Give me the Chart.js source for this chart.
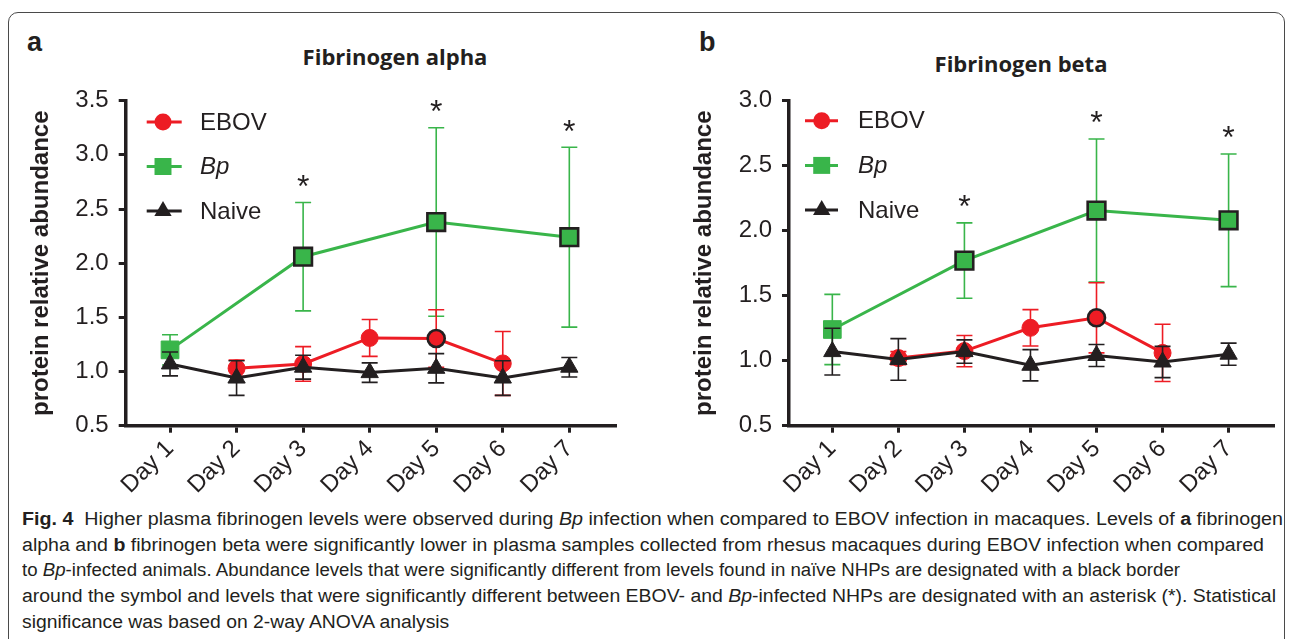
<!DOCTYPE html>
<html><head><meta charset="utf-8">
<script src="https://cdn.jsdelivr.net/npm/chart.js@4/dist/chart.umd.min.js"></script>
<style>
html,body{margin:0;padding:0;background:#fff;}
body{width:1289px;height:639px;overflow:hidden;position:relative;font-family:"Liberation Sans",Arial,sans-serif;color:#231f20;}
#frame{position:absolute;left:8px;top:12px;width:1275px;height:720px;border:1.3px solid #4a4a4a;border-radius:10px;}
.cw{position:absolute;top:0;height:500px;}
#wa{left:0;width:640px;}
#wb{left:645px;width:644px;}
.letter{position:absolute;font:bold 27px "Liberation Sans",Arial,sans-serif;line-height:27px;color:#231f20;}
.ptitle{position:absolute;font:bold 22px "Open Sans",sans-serif;line-height:22px;color:#231f20;white-space:nowrap;transform:translateX(-50%);}
.cap{position:absolute;left:22px;white-space:nowrap;font:18px "Liberation Sans",Arial,sans-serif;line-height:20px;color:#231f20;transform-origin:0 0;}
.cap b{font-weight:bold}
</style></head>
<body>
<div id="frame"></div>
<div class="letter" style="left:27px;top:29px">a</div>
<div class="letter" style="left:699px;top:29px">b</div>
<div class="ptitle" style="left:395px;top:45px">Fibrinogen alpha</div>
<div class="ptitle" style="left:1021px;top:52px">Fibrinogen beta</div>
<div class="cw" id="wa"><canvas id="ca" width="640" height="500"></canvas></div>
<div class="cw" id="wb"><canvas id="cb" width="644" height="500"></canvas></div>
<div class="cap" data-w="1261" style="top:509px"><b>Fig. 4</b>&nbsp; Higher plasma fibrinogen levels were observed during <i>Bp</i> infection when compared to EBOV infection in macaques. Levels of <b>a</b> fibrinogen</div>
<div class="cap" data-w="1242" style="top:535px">alpha and <b>b</b> fibrinogen beta were significantly lower in plasma samples collected from rhesus macaques during EBOV infection when compared</div>
<div class="cap" data-w="1158" style="top:560px">to <i>Bp</i>-infected animals. Abundance levels that were significantly different from levels found in naïve NHPs are designated with a black border</div>
<div class="cap" data-w="1254" style="top:586px">around the symbol and levels that were significantly different between EBOV- and <i>Bp</i>-infected NHPs are designated with an asterisk (*). Statistical</div>
<div class="cap" data-w="0" style="top:612px">significance was based on 2-way ANOVA analysis</div>
<script>
// ---------- data ----------
const dayLabels = ['Day 1','Day 2','Day 3','Day 4','Day 5','Day 6','Day 7'];
const seriesNames = ['EBOV','Bp','Naive'];

// Panel a: Fibrinogen alpha
const alphaEBOV    = [null, 1.03, 1.07, 1.31, 1.305, 1.075, null];
const alphaEBOVErr = [null, 0.075, 0.16, 0.17, 0.265, 0.295, null];
const alphaBp      = [1.20, null, 2.06, null, 2.38, null, 2.24];
const alphaBpErr   = [0.14, null, 0.50, null, 0.87, null, 0.83];
const alphaNaive   = [1.07, 0.94, 1.04, 0.99, 1.03, 0.94, 1.04];
const alphaNaiveErr= [0.11, 0.16, 0.11, 0.09, 0.135, 0.16, 0.09];
const alphaTicks   = [0.5, 1.0, 1.5, 2.0, 2.5, 3.0, 3.5];
const alphaSigEBOV = [5];
const alphaSigBp   = [3, 5, 7];
const alphaStars   = [3, 5, 7];

// Panel b: Fibrinogen beta
const betaEBOV     = [null, 1.02, 1.074, 1.253, 1.33, 1.06, null];
const betaEBOVErr  = [null, 0.05, 0.12, 0.14, 0.27, 0.22, null];
const betaBp       = [1.24, null, 1.77, null, 2.155, null, 2.08];
const betaBpErr    = [0.27, null, 0.29, null, 0.55, null, 0.51];
const betaNaive    = [1.07, 1.01, 1.07, 0.965, 1.04, 0.99, 1.05];
const betaNaiveErr = [0.18, 0.16, 0.09, 0.12, 0.085, 0.12, 0.085];
const betaTicks    = [0.5, 1.0, 1.5, 2.0, 2.5, 3.0];
const betaSigEBOV  = [5];
const betaSigBp    = [3, 5, 7];
const betaStars    = [3, 5, 7];

// ---------- styling ----------
const RED='#ed1c24', GREEN='#39b54a', BLACK='#231f20';
const FONT='"Liberation Sans", Arial, sans-serif';

function pts(vals, errs){
  const out=[];
  vals.forEach((v,i)=>{ if(v!==null) out.push({x:i+1, y:v, e:errs[i]}); });
  return out;
}
function ds(label, vals, errs, color, style, radius, sig, order){
  const data = pts(vals, errs);
  return {
    label, data, order,
    borderColor: color, backgroundColor: color, borderWidth: 3,
    pointStyle: style, pointRadius: radius, pointHoverRadius: radius,
    pointBackgroundColor: color,
    pointBorderColor: data.map(p => sig.includes(p.x) ? BLACK : color),
    pointBorderWidth: data.map(p => sig.includes(p.x) ? 2.6 : 1),
    spanGaps: true, tension: 0, clip: false, errColor: color
  };
}

const errPlugin = {
  id:'errbars',
  beforeDatasetDraw(chart, args){
    const d = chart.data.datasets[args.index];
    const xs = chart.scales.x, ys = chart.scales.y, ctx = chart.ctx;
    ctx.save(); ctx.strokeStyle = d.errColor; ctx.lineWidth = 1.6;
    d.data.forEach(p=>{
      if(p.e==null) return;
      const x = xs.getPixelForValue(p.x);
      const y1 = ys.getPixelForValue(p.y + p.e), y2 = ys.getPixelForValue(p.y - p.e);
      ctx.beginPath();
      ctx.moveTo(x,y1); ctx.lineTo(x,y2);
      ctx.moveTo(x-8,y1); ctx.lineTo(x+8,y1);
      ctx.moveTo(x-8,y2); ctx.lineTo(x+8,y2);
      ctx.stroke();
    });
    ctx.restore();
  },
  afterDatasetsDraw(chart){
    const o = chart.options.plugins.extras; const ctx = chart.ctx;
    const xs = chart.scales.x, ys = chart.scales.y;
    // asterisks
    const bp = chart.data.datasets.find(d=>d.label==='Bp');
    ctx.save(); ctx.fillStyle = BLACK; ctx.font = '32px '+FONT; ctx.textAlign='center'; ctx.textBaseline='alphabetic';
    o.stars.forEach(day=>{
      const p = bp.data.find(q=>q.x===day);
      const x = xs.getPixelForValue(day);
      const y = ys.getPixelForValue(p.y + p.e) - 24;
      ctx.fillText('*', x, y + 0.57*32);
    });
    // legend
    const L = o.legend, left = chart.chartArea.left, top = chart.chartArea.top;
    const items = [
      {t:seriesNames[0], c:RED, s:'circle', r:8.5},
      {t:seriesNames[1], c:GREEN, s:'rect', r:12, it:true},
      {t:seriesNames[2], c:BLACK, s:'triangle', r:10}
    ];
    items.forEach((it,i)=>{
      const y = top + L.y0 + i*L.dy;
      ctx.strokeStyle = it.c; ctx.lineWidth = 3;
      ctx.beginPath(); ctx.moveTo(left+L.l1, y); ctx.lineTo(left+L.l2, y); ctx.stroke();
      const mx = left + L.mx;
      ctx.fillStyle = it.c; ctx.beginPath();
      if(it.s==='circle'){ ctx.arc(mx, y, it.r, 0, Math.PI*2); }
      else if(it.s==='rect'){ const h = it.r*Math.SQRT1_2; ctx.rect(mx-h, y-h, 2*h, 2*h); }
      else { const r=it.r; ctx.moveTo(mx, y-r); ctx.lineTo(mx+r*Math.sin(Math.PI*2/3), y - r*Math.cos(Math.PI*2/3)); ctx.lineTo(mx+r*Math.sin(Math.PI*4/3), y - r*Math.cos(Math.PI*4/3)); ctx.closePath(); }
      ctx.fill();
      ctx.fillStyle = BLACK; ctx.textAlign='left'; ctx.textBaseline='middle';
      ctx.font = (it.it?'italic ':'') + '24px ' + FONT;
      ctx.fillText(it.t, left + L.tx, y+1);
    });
    ctx.restore();
  }
};

function makeChart(id, cfg){
  return new Chart(document.getElementById(id), {
    type:'line',
    data:{ datasets:[
      ds(seriesNames[2], cfg.naive, cfg.naiveErr, BLACK, 'triangle', 10, [], 0),
      ds(seriesNames[0], cfg.ebov, cfg.ebovErr, RED, 'circle', 8.5, cfg.sigE, 1),
      ds(seriesNames[1], cfg.bp, cfg.bpErr, GREEN, 'rect', 12.5, cfg.sigB, 2)
    ]},
    options:{
      responsive:false, animation:false, devicePixelRatio:1,
      layout:{padding:{left:0, top:100.7, right:cfg.padR, bottom:0}},
      plugins:{legend:{display:false}, tooltip:{enabled:false}, extras:{stars:cfg.stars, legend:cfg.legend}},
      scales:{
        x:{type:'linear', min:cfg.xmin, max:cfg.xmax,
           afterBuildTicks:(s)=>{ s.ticks = dayLabels.map((l,i)=>({value:i+1})); },
           afterFit:(s)=>{ s.height = 74.3; },
           ticks:{autoSkip:false, maxRotation:45, minRotation:45, padding:2, color:BLACK, font:{family:FONT,size:24},
                  callback:(v)=>dayLabels[Math.round(v)-1]},
           grid:{drawOnChartArea:false, drawTicks:true, tickLength:7, color:BLACK, lineWidth:3},
           border:{color:BLACK, width:3.5}},
        y:{min:cfg.ticks[0], max:cfg.ticks[cfg.ticks.length-1],
           afterBuildTicks:(s)=>{ s.ticks = cfg.ticks.map(v=>({value:v})); },
           afterFit:(s)=>{ s.width = cfg.yw; },
           ticks:{padding:10, color:BLACK, font:{family:FONT,size:24}, callback:(v)=>v.toFixed(1)},
           grid:{drawOnChartArea:false, drawTicks:true, tickLength:7, color:BLACK, lineWidth:3},
           border:{color:BLACK, width:3.5},
           title:{display:true, text:'protein relative abundance', color:BLACK,
                  font:{family:FONT, size:24, weight:'bold'}, padding:{top:cfg.titlePad, bottom:0}}}
      }
    },
    plugins:[errPlugin]
  });
}

makeChart('ca', {ebov:alphaEBOV, ebovErr:alphaEBOVErr, bp:alphaBp, bpErr:alphaBpErr, naive:alphaNaive, naiveErr:alphaNaiveErr,
  ticks:alphaTicks, sigE:alphaSigEBOV, sigB:alphaSigBp, stars:alphaStars,
  xmin:0.334, xmax:7.697, yw:125.7, padR:24.3, titlePad:27,
  legend:{y0:21.3, dy:44.5, l1:21, l2:56, mx:37.3, tx:74.3}});
makeChart('cb', {ebov:betaEBOV, ebovErr:betaEBOVErr, bp:betaBp, bpErr:betaBpErr, naive:betaNaive, naiveErr:betaNaiveErr,
  ticks:betaTicks, sigE:betaSigEBOV, sigB:betaSigBp, stars:betaStars,
  xmin:0.344, xmax:7.686, yw:144, padR:11, titlePad:44.6,
  legend:{y0:20, dy:44.7, l1:16, l2:49, mx:32.7, tx:69}});

// condense caption lines (reference uses a condensed face); one common factor for the last short line
const caps = [...document.querySelectorAll('.cap')];
let sum = 0, n = 0;
caps.forEach(el=>{
  const w = el.getBoundingClientRect().width, t = +el.dataset.w;
  if(t>0){ const s = t/w; sum += s; n++; el.style.transform = 'scaleX(' + s + ')'; }
});
caps.forEach(el=>{ if(+el.dataset.w===0) el.style.transform = 'scaleX(' + (sum/n) + ')'; });
</script>
</body></html>
